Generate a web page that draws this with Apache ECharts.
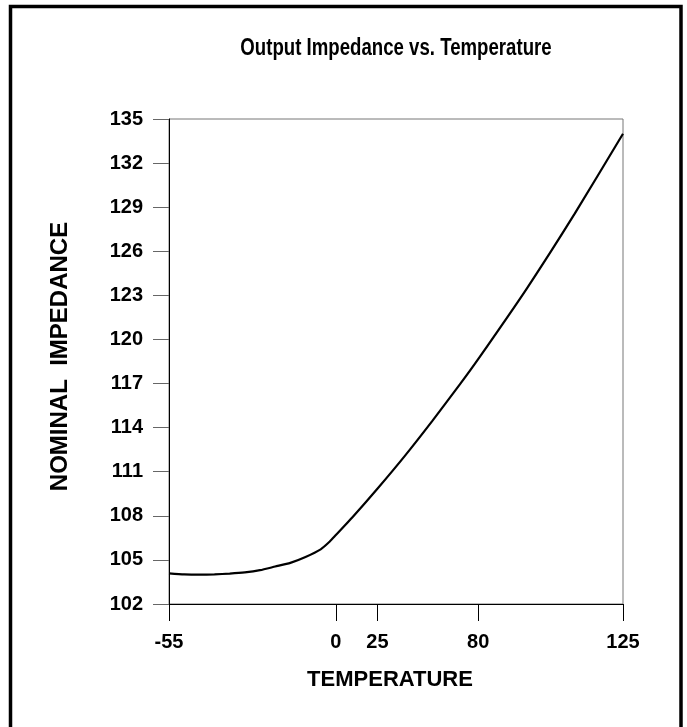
<!DOCTYPE html>
<html>
<head>
<meta charset="utf-8">
<script src="https://cdn.jsdelivr.net/npm/echarts@6/dist/echarts.min.js"></script>
<style>
  html, body { margin: 0; padding: 0; background: #fff; }
  #chart { width: 687px; height: 727px; }
</style>
</head>
<body>
<div id="chart"></div>
<script>
// temperature ticks and where they sit along the x axis (uneven scale in the original)
const tempTicks = [-55, 0, 25, 80, 125]
const tickFrac = [0, 0.3675, 0.459, 0.681, 1]
const yTicks = { min: 102, max: 135, step: 3 }

// curve
const temps = [-55, -50, -45, -40, -35, -30, -25, -20, -15, -10, -5, -2, 0, 10, 25, 40, 55, 70, 80, 95, 110, 125]
const impedance = [104.09, 104.02, 104.0, 104.02, 104.07, 104.15, 104.3, 104.55, 104.8, 105.2, 105.72, 106.25, 106.69, 107.9, 109.84, 112.08, 114.46, 116.94, 118.66, 123.43, 128.56, 134.0]

// piecewise-linear map temperature -> axis fraction
function toAxis(t) {
  for (let i = 1; i < tempTicks.length; i++) {
    if (t <= tempTicks[i]) {
      const k = (t - tempTicks[i - 1]) / (tempTicks[i] - tempTicks[i - 1])
      return tickFrac[i - 1] + k * (tickFrac[i] - tickFrac[i - 1])
    }
  }
  return 1
}

const chart = echarts.init(document.getElementById('chart'))
const font = 'Liberation Sans, Arial, sans-serif'

chart.setOption({
  animation: false,
  backgroundColor: '#fff',
  graphic: [
    {
      type: 'rect',
      shape: { x: 10.5, y: 6.5, width: 670.5, height: 740 },
      style: { fill: null, stroke: '#000', lineWidth: 3.5 },
      silent: true
    },
    {
      // title, squeezed a little to match the narrow lettering
      type: 'text',
      x: 396,
      y: 49,
      scaleX: 0.81,
      silent: true,
      style: {
        text: 'Output Impedance vs. Temperature',
        fontFamily: font,
        fontSize: 23,
        fontWeight: 'bold',
        fill: '#000',
        textAlign: 'center',
        textVerticalAlign: 'middle'
      }
    }
  ],
  grid: {
    left: 169,
    right: 64,
    top: 119,
    bottom: 123,
    containLabel: false,
    outerBoundsMode: 'none',
    show: true,
    borderColor: '#777',
    borderWidth: 1
  },
  xAxis: {
    type: 'value',
    min: 0,
    max: 1,
    name: 'TEMPERATURE',
    nameLocation: 'middle',
    nameGap: 65,
    nameTextStyle: { fontFamily: font, fontSize: 22, fontWeight: 'bold', color: '#000', padding: [0, 12, 0, 0] },
    axisLine: { show: true, lineStyle: { color: '#000', width: 1 } },
    axisTick: { show: true, customValues: tickFrac, length: 17, lineStyle: { color: '#000' } },
    axisLabel: {
      customValues: tickFrac,
      margin: 28,
      fontFamily: font,
      fontSize: 20,
      fontWeight: 'bold',
      color: '#000',
      formatter: function (v) {
        const i = tickFrac.findIndex(f => Math.abs(f - v) < 1e-6)
        return i >= 0 ? String(tempTicks[i]) : ''
      }
    },
    splitLine: { show: false }
  },
  yAxis: {
    type: 'value',
    min: yTicks.min,
    max: yTicks.max,
    interval: yTicks.step,
    name: 'NOMINAL  IMPEDANCE',
    nameLocation: 'middle',
    nameGap: 97,
    nameTextStyle: { fontFamily: font, fontSize: 24, fontWeight: 'bold', color: '#000', padding: [0, 0, 0, 10] },
    axisLine: { show: true, lineStyle: { color: '#000', width: 1 } },
    axisTick: { show: true, length: 16, lineStyle: { color: '#666' } },
    axisLabel: { margin: 26, fontFamily: font, fontSize: 20, fontWeight: 'bold', color: '#000' },
    splitLine: { show: false }
  },
  series: [
    {
      type: 'line',
      data: temps.map((t, i) => [toAxis(t), impedance[i]]),
      showSymbol: false,
      smooth: 0.2,
      lineStyle: { color: '#000', width: 2.2 }
    }
  ]
})
</script>
</body>
</html>
